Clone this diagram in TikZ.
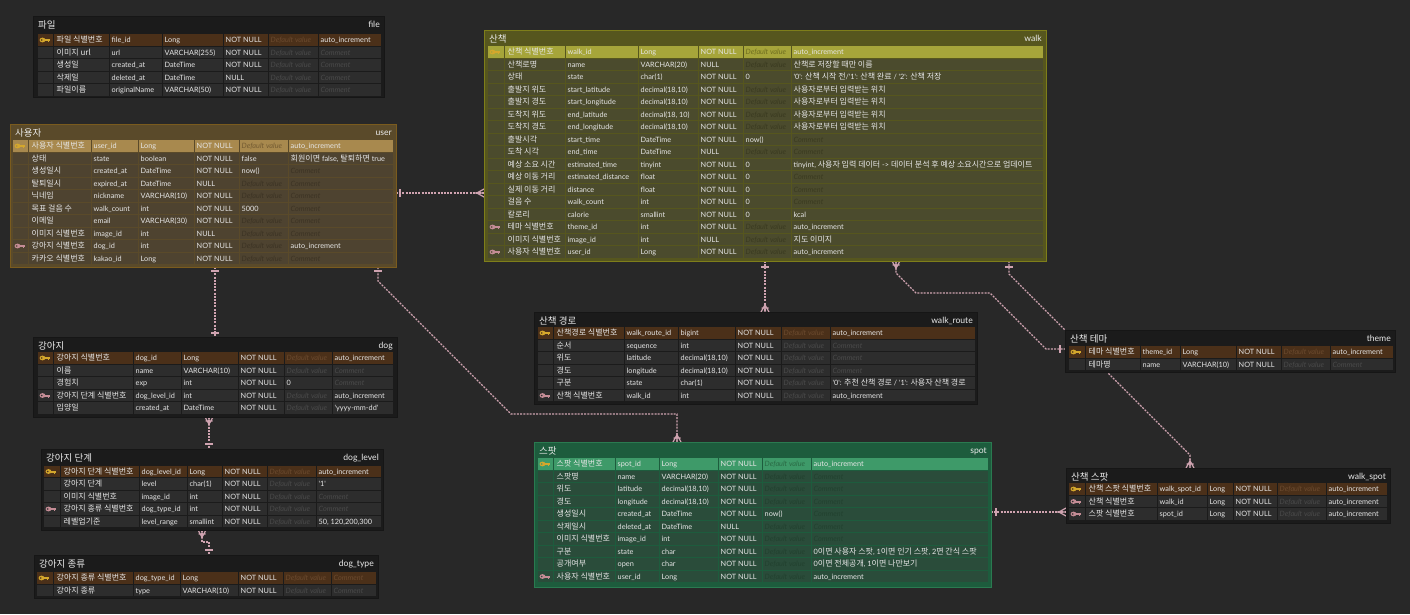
\documentclass[tikz,border=0pt]{standalone}
\usepackage{fontspec}
\setmainfont{Lato}
\newfontfamily\kofont{Noto Sans CJK KR}
\usetikzlibrary{calc}
\pgfdeclarelayer{bglayer}
\pgfdeclarelayer{connlayer}
\pgfsetlayers{bglayer,connlayer,main}

\definecolor{bgc}{HTML}{282828}
\definecolor{connc}{HTML}{CFA3B0}
\definecolor{txt}{HTML}{E6E6E6}
\definecolor{ttlc}{HTML}{EAEAEA}
\definecolor{pkkey}{HTML}{D4A72C}
\definecolor{fkkey}{HTML}{C48C95}

\newcommand\ko{\kofont\fontsize{8}{9}\selectfont}
\newcommand\la{\fontsize{7.3}{8}\selectfont}
\newcommand\sq{\textquotesingle}

\newcommand\darkset{\definecolor{tbg}{HTML}{1B1B1B}\definecolor{tbd}{HTML}{161616}%
  \definecolor{cellc}{HTML}{2D2D2D}\definecolor{pkc}{HTML}{4B3019}%
  \definecolor{phc}{HTML}{4A4A4A}\definecolor{pkph}{HTML}{6B4A2E}}
\newcommand\userset{\definecolor{tbg}{HTML}{5A4A2A}\definecolor{tbd}{HTML}{7A5B1E}%
  \definecolor{cellc}{HTML}{4E4330}\definecolor{pkc}{HTML}{A8894E}%
  \definecolor{phc}{HTML}{3C3324}\definecolor{pkph}{HTML}{735B32}}
\newcommand\walkset{\definecolor{tbg}{HTML}{56561E}\definecolor{tbd}{HTML}{7E7E1A}%
  \definecolor{cellc}{HTML}{4B4B2D}\definecolor{pkc}{HTML}{A6A53A}%
  \definecolor{phc}{HTML}{3A3A20}\definecolor{pkph}{HTML}{6F6E1F}}
\newcommand\spotset{\definecolor{tbg}{HTML}{1D5C3D}\definecolor{tbd}{HTML}{2A7A50}%
  \definecolor{cellc}{HTML}{2A4C3A}\definecolor{pkc}{HTML}{3E9A69}%
  \definecolor{phc}{HTML}{22412F}\definecolor{pkph}{HTML}{2A6A45}}

\newcount\cellno
\newcommand\setcols[8]{\def\cxa{#1}\def\cxb{#2}\def\cxc{#3}\def\cxd{#4}\def\cxe{#5}\def\cxf{#6}\def\cxg{#7}\def\cxh{#8}}
\newcommand\startrows[1]{\gdef\ry{#1}}

\newcommand\cellfill[2]{\fill[rowc] ({#1+0.5},{\ry-5.75}) rectangle ({#2-0.5},{\ry+5.75});}

\newcommand\keyicon[1]{%
  \fill[#1] ({\cxa+5.5},\ry) ellipse (2.9 and 2.4);
  \fill[#1] ({\cxa+7},{\ry-1}) rectangle ({\cxa+13},{\ry+1});
  \fill[#1] ({\cxa+10.5},\ry) rectangle ({\cxa+12},{\ry+2.4});
  \fill[rowc] ({\cxa+4.8},\ry) circle (0.9);}

\newcommand\erow[7]{%
  \ifx p#1\colorlet{rowc}{pkc}\colorlet{rowph}{pkph}\else\colorlet{rowc}{cellc}\colorlet{rowph}{phc}\fi
  \cellfill{\cxa}{\cxb}\cellfill{\cxb}{\cxc}\cellfill{\cxc}{\cxd}\cellfill{\cxd}{\cxe}%
  \cellfill{\cxe}{\cxf}\cellfill{\cxf}{\cxg}\cellfill{\cxg}{\cxh}%
  \ifx p#1\keyicon{pkkey}\fi
  \ifx f#1\keyicon{fkkey}\fi
  \global\advance\cellno by 1
  \node[ct] (c\the\cellno-a) at ({\cxb+3.5},{\ry+2.7}) {\ko #2};
  \node[ct] (c\the\cellno-b) at ({\cxc+2.5},{\ry+2.6}) {#3};
  \node[ct] (c\the\cellno-c) at ({\cxd+2.5},{\ry+2.6}) {#4};
  \node[ct] (c\the\cellno-d) at ({\cxe+2.5},{\ry+2.6}) {#5};
  \def\tmpd{#6}\ifx\tmpd\empty
    \node[ph] (c\the\cellno-e) at ({\cxf+2.5},{\ry+2.6}) {Default value};
  \else
    \node[ct] (c\the\cellno-e) at ({\cxf+2.5},{\ry+2.6}) {#6};
  \fi
  \def\tmpc{#7}\ifx\tmpc\empty
    \node[ph] (c\the\cellno-f) at ({\cxg+2.5},{\ry+2.6}) {Comment};
  \else
    \node[ct] (c\the\cellno-f) at ({\cxg+2.5},{\ry+2.6}) {#7};
  \fi
  \pgfmathsetmacro\nry{\ry+12.5}\global\let\ry\nry
}

\newcommand\etable[7]{%
  \node[tbox, minimum width={#4-#2}, minimum height={#5-#3}, anchor=north west] (#1) at (#2,#3) {};
  \node[ttl, anchor=base west] (#1-ko) at ({#2+5},{#3+12}) {\kofont\fontsize{9.5}{11}\selectfont #6};
  \node[ttl, anchor=base east] (#1-en) at ({#4-4},{#3+11.5}) {\fontsize{8.6}{10}\selectfont #7};
}

\newcommand\crossh[2]{\draw[mk] ($(#1)+(#2,-4)$) -- ($(#1)+(#2,4)$);}
\newcommand\crossv[2]{\draw[mk] ($(#1)+(-4,#2)$) -- ($(#1)+(4,#2)$);}
\newcommand\crowh[2]{\draw[mk] (#1) -- ($(#1)+(#2,0)$) ($(#1)+(0,-4)$) -- ($(#1)+({#2*0.8},0)$) -- ($(#1)+(0,4)$);}
\newcommand\crowv[2]{\draw[mk] (#1) -- ($(#1)+(0,#2)$) ($(#1)+(-4,0)$) -- ($(#1)+(0,{#2*0.8})$) -- ($(#1)+(4,0)$) ($(#1)+(-3.5,{#2*0.45})$) -- ($(#1)+(3.5,{#2*0.45})$);}

\begin{document}
\begin{tikzpicture}[x=1pt,y=-1pt,
  tbox/.style={draw=tbd, fill=tbg, line width=1pt, inner sep=0pt, outer sep=0pt},
  ttl/.style={inner sep=0pt, text=ttlc},
  ct/.style={anchor=base west, inner sep=0pt, text=txt, font=\la},
  ph/.style={anchor=base west, inner sep=0pt, text=rowph, font=\la\itshape},
  conn/.style={draw=connc, line width=1.2pt, dash pattern=on 2pt off 1.2pt},
  mk/.style={draw=connc, line width=1.2pt, solid}]
\useasboundingbox (0,0) rectangle (1410,614);
\begin{pgfonlayer}{bglayer}
\fill[bgc] (0,0) rectangle (1410,614);
\end{pgfonlayer}

% ---------- file
\darkset
\etable{file}{33}{16}{384}{97}{파일}{file}
\setcols{37}{53}{109}{162}{223}{268}{318}{381}\startrows{40}
\erow{p}{파일 식별번호}{file\_id}{Long}{NOT NULL}{}{auto\_increment}
\erow{n}{이미지 url}{url}{VARCHAR(255)}{NOT NULL}{}{}
\erow{n}{생성일}{created\_at}{DateTime}{NOT NULL}{}{}
\erow{n}{삭제일}{deleted\_at}{DateTime}{NULL}{}{}
\erow{n}{파일이름}{originalName}{VARCHAR(50)}{NOT NULL}{}{}

% ---------- user
\userset
\etable{user}{10}{124}{396}{267}{사용자}{user}
\setcols{12}{28}{91}{138}{194}{239}{288}{393}\startrows{146}
\erow{p}{사용자 식별번호}{user\_id}{Long}{NOT NULL}{}{auto\_increment}
\erow{n}{상태}{state}{boolean}{NOT NULL}{false}{{\ko 회원이면} false, {\ko 탈퇴하면} true}
\erow{n}{생성일시}{created\_at}{DateTime}{NOT NULL}{now()}{}
\erow{n}{탈퇴일시}{expired\_at}{DateTime}{NULL}{}{}
\erow{n}{닉네임}{nickname}{VARCHAR(10)}{NOT NULL}{}{}
\erow{n}{목표 걸음 수}{walk\_count}{int}{NOT NULL}{5000}{}
\erow{n}{이메일}{email}{VARCHAR(30)}{NOT NULL}{}{}
\erow{n}{이미지 식별번호}{image\_id}{int}{NULL}{}{}
\erow{f}{강아지 식별번호}{dog\_id}{int}{NOT NULL}{}{auto\_increment}
\erow{n}{카카오 식별번호}{kakao\_id}{Long}{NOT NULL}{}{}

% ---------- walk
\walkset
\etable{walk}{484}{30}{1046}{261}{산책}{walk}
\setcols{487}{504}{565}{638}{698}{743}{791}{1043}\startrows{52}
\erow{p}{산책 식별번호}{walk\_id}{Long}{NOT NULL}{}{auto\_increment}
\erow{n}{산책로명}{name}{VARCHAR(20)}{NULL}{}{\ko 산책로 저장할 때만 이름}
\erow{n}{상태}{state}{char(1)}{NOT NULL}{0}{\sq0\sq: {\ko 산책 시작 전}/\sq1\sq: {\ko 산책 완료} / \sq2\sq: {\ko 산책 저장}}
\erow{n}{출발지 위도}{start\_latitude}{decimal(18,10)}{NOT NULL}{}{\ko 사용자로부터 입력받는 위치}
\erow{n}{출발지 경도}{start\_longitude}{decimal(18,10)}{NOT NULL}{}{\ko 사용자로부터 입력받는 위치}
\erow{n}{도착지 위도}{end\_latitude}{decimal(18, 10)}{NOT NULL}{}{\ko 사용자로부터 입력받는 위치}
\erow{n}{도착지 경도}{end\_longitude}{decimal(18,10)}{NOT NULL}{}{\ko 사용자로부터 입력받는 위치}
\erow{n}{출발시각}{start\_time}{DateTime}{NOT NULL}{now()}{}
\erow{n}{도착 시각}{end\_time}{DateTime}{NULL}{}{}
\erow{n}{예상 소요 시간}{estimated\_time}{tinyint}{NOT NULL}{0}{tinyint, {\ko 사용자 입력 데이터} -> {\ko 데이터 분석 후 예상 소요시간으로 업데이트}}
\erow{n}{예상 이동 거리}{estimated\_distance}{float}{NOT NULL}{0}{}
\erow{n}{실제 이동 거리}{distance}{float}{NOT NULL}{0}{}
\erow{n}{걸음 수}{walk\_count}{int}{NOT NULL}{0}{}
\erow{n}{칼로리}{calorie}{smallint}{NOT NULL}{0}{kcal}
\erow{f}{테마 식별번호}{theme\_id}{int}{NOT NULL}{}{auto\_increment}
\erow{n}{이미지 식별번호}{image\_id}{int}{NULL}{}{\ko 지도 이미지}
\erow{f}{사용자 식별번호}{user\_id}{Long}{NOT NULL}{}{auto\_increment}

% ---------- dog
\darkset
\etable{dog}{33}{337}{397}{417}{강아지}{dog}
\setcols{37}{53}{133}{181}{238}{284}{332}{393}\startrows{358}
\erow{p}{강아지 식별번호}{dog\_id}{Long}{NOT NULL}{}{auto\_increment}
\erow{n}{이름}{name}{VARCHAR(10)}{NOT NULL}{}{}
\erow{n}{경험치}{exp}{int}{NOT NULL}{0}{}
\erow{f}{강아지 단계 식별번호}{dog\_level\_id}{int}{NOT NULL}{}{auto\_increment}
\erow{n}{입양일}{created\_at}{DateTime}{NOT NULL}{}{\sq yyyy-mm-dd\sq}

% ---------- dog_level
\etable{dlevel}{41}{449}{383}{530}{강아지 단계}{dog\_level}
\setcols{43}{60}{139}{187}{222}{267}{316}{381}\startrows{471.5}
\erow{p}{강아지 단계 식별번호}{dog\_level\_id}{Long}{NOT NULL}{}{auto\_increment}
\erow{n}{강아지 단계}{level}{char(1)}{NOT NULL}{}{\sq1\sq}
\erow{n}{이미지 식별번호}{image\_id}{int}{NOT NULL}{}{}
\erow{f}{강아지 종류 식별번호}{dog\_type\_id}{int}{NOT NULL}{}{}
\erow{n}{레벨업기준}{level\_range}{smallint}{NOT NULL}{}{50, 120,200,300}

% ---------- dog_type
\etable{dtype}{34}{555}{378}{598}{강아지 종류}{dog\_type}
\setcols{36}{53}{133}{180}{238}{283}{331}{376}\startrows{578}
\erow{p}{강아지 종류 식별번호}{dog\_type\_id}{Long}{NOT NULL}{}{}
\erow{n}{강아지 종류}{type}{VARCHAR(10)}{NOT NULL}{}{}

% ---------- walk_route
\etable{wroute}{534}{312}{977}{404}{산책 경로}{walk\_route}
\setcols{537}{553}{624}{678}{735}{781}{830}{975}\startrows{333}
\erow{p}{산책경로 식별번호}{walk\_route\_id}{bigint}{NOT NULL}{}{auto\_increment}
\erow{n}{순서}{sequence}{int}{NOT NULL}{}{}
\erow{n}{위도}{latitude}{decimal(18,10)}{NOT NULL}{}{}
\erow{n}{경도}{longitude}{decimal(18,10)}{NOT NULL}{}{}
\erow{n}{구분}{state}{char(1)}{NOT NULL}{}{\sq0\sq: {\ko 추천 산책 경로} / \sq1\sq: {\ko 사용자 산책 경로}}
\erow{f}{산책 식별번호}{walk\_id}{int}{NOT NULL}{}{auto\_increment}

% ---------- theme
\etable{theme}{1065}{330}{1395}{372}{산책 테마}{theme}
\setcols{1068}{1085}{1140}{1180}{1236}{1281}{1330}{1393}\startrows{352}
\erow{p}{테마 식별번호}{theme\_id}{Long}{NOT NULL}{}{auto\_increment}
\erow{n}{테마명}{name}{VARCHAR(10)}{NOT NULL}{}{}

% ---------- walk_spot
\etable{wspot}{1066}{468}{1390}{523}{산책 스팟}{walk\_spot}
\setcols{1068}{1085}{1157}{1207}{1233}{1277}{1326}{1387}\startrows{489}
\erow{p}{산책 스팟 식별번호}{walk\_spot\_id}{Long}{NOT NULL}{}{auto\_increment}
\erow{f}{산책 식별번호}{walk\_id}{Long}{NOT NULL}{}{auto\_increment}
\erow{f}{스팟 식별번호}{spot\_id}{Long}{NOT NULL}{}{auto\_increment}

% ---------- spot
\spotset
\etable{spot}{534}{442}{991}{587}{스팟}{spot}
\setcols{537}{553}{615}{659}{718}{762}{811}{988}\startrows{464}
\erow{p}{스팟 식별번호}{spot\_id}{Long}{NOT NULL}{}{auto\_increment}
\erow{n}{스팟명}{name}{VARCHAR(20)}{NOT NULL}{}{}
\erow{n}{위도}{latitude}{decimal(18,10)}{NOT NULL}{}{}
\erow{n}{경도}{longitude}{decimal(18,10)}{NOT NULL}{}{}
\erow{n}{생성일시}{created\_at}{DateTime}{NOT NULL}{now()}{}
\erow{n}{삭제일시}{deleted\_at}{DateTime}{NULL}{}{}
\erow{n}{이미지 식별번호}{image\_id}{int}{NOT NULL}{}{}
\erow{n}{구분}{state}{char}{NOT NULL}{}{0{\ko 이면 사용자 스팟}, 1{\ko 이면 인기 스팟}, 2{\ko 면 간식 스팟}}
\erow{n}{공개여부}{open}{char}{NOT NULL}{}{0{\ko 이면 전체공개}, 1{\ko 이면 나만보기}}
\erow{f}{사용자 식별번호}{user\_id}{Long}{NOT NULL}{}{auto\_increment}

% ---------- connectors
\coordinate (uw-a) at (user.east |- 0,193);
\coordinate (uw-b) at (walk.west |- 0,193);
\coordinate (ud-a) at (user.south -| 215,0);
\coordinate (ud-b) at (dog.north -| 215,0);
\coordinate (us-a) at (user.south -| 378,0);
\coordinate (us-b) at (spot.north -| 677,0);
\coordinate (wr-a) at (walk.south -| 765,0);
\coordinate (wr-b) at (wroute.north -| 765,0);
\coordinate (wt-a) at (walk.south -| 896,0);
\coordinate (wt-b) at (theme.west |- 0,349);
\coordinate (ws-a) at (walk.south -| 1009,0);
\coordinate (ws-b) at (wspot.north -| 1190,0);
\coordinate (sw-a) at (spot.east |- 0,512);
\coordinate (sw-b) at (wspot.west |- 0,512);
\coordinate (dl-a) at (dog.south -| 209,0);
\coordinate (dl-b) at (dlevel.north -| 209,0);
\coordinate (lt-a) at (dlevel.south -| 202,0);
\coordinate (lt-b) at (dtype.north -| 209,0);

\begin{pgfonlayer}{connlayer}
\draw[conn] (uw-a) -- (uw-b);
\draw[conn] (ud-a) -- (ud-b);
\draw[conn] (us-a) -- ++(0,14) -- ++(133,133) -| (us-b);
\draw[conn] (wr-a) -- (wr-b);
\draw[conn] (wt-a) -- ++(0,12) -- ++(20,20) -- ++(74,0) -- ++(56,56) -- (wt-b);
\draw[conn] (ws-a) -- ++(0,13) -- ++(181,181) -- (ws-b);
\draw[conn] (sw-a) -- (sw-b);
\draw[conn] (dl-a) -- (dl-b);
\draw[conn] (lt-a) -- ++(0,12) -| (lt-b);

\crossh{uw-a}{4}\crowh{uw-b}{-9}
\crossv{ud-a}{4}\crossv{ud-b}{-4}
\crossv{us-a}{4}\crowv{us-b}{-9}
\crossv{wr-a}{6}\crowv{wr-b}{-9}
\crowv{wt-a}{9}\crossh{wt-b}{-5}
\crossv{ws-a}{6}\crowv{ws-b}{-9}
\crossh{sw-a}{5}\crowh{sw-b}{-9}
\crowv{dl-a}{9}\crossv{dl-b}{-5}
\crowv{lt-a}{9}\crossv{lt-b}{-5}
\end{pgfonlayer}
\end{tikzpicture}
\end{document}
